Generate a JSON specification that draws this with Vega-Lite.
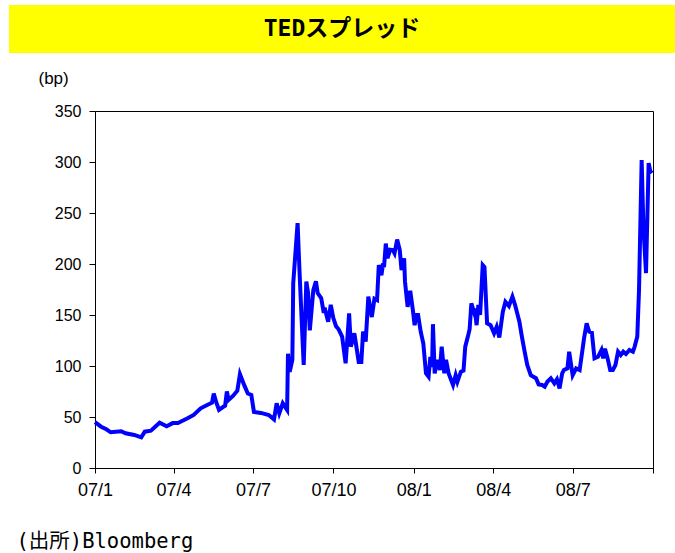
{
  "$schema": "https://vega.github.io/schema/vega-lite/v6.json",
  "background": "white",
  "padding": {"left": 9, "top": 5, "right": 0, "bottom": 0},
  "spacing": 15,
  "config": {"view": {"stroke": null}},
  "vconcat": [
    {
      "width": 666,
      "height": 48,
      "view": {"fill": "#FFFF00", "stroke": null},
      "data": {"values": [{"title": "TEDスプレッド"}]},
      "mark": {"type": "text", "font": "DejaVu Sans Mono, Noto Sans CJK JP", "fontWeight": "bold", "fontSize": 23, "align": "center", "baseline": "middle", "color": "black"},
      "encoding": {"text": {"field": "title", "type": "nominal"}}
    },
    {
      "spacing": 5,
      "hconcat": [
        {
          "width": 1,
          "height": 1,
          "data": {"values": []},
          "mark": {"type": "point", "opacity": 0}
        },
        {
          "width": 558,
          "height": 357,
          "view": {"stroke": "black", "strokeWidth": 1, "fill": "white"},
          "data": {"values": [
            {"date": "2007-01-01", "bp": 45},
            {"date": "2007-01-08", "bp": 40.5},
            {"date": "2007-01-14", "bp": 38},
            {"date": "2007-01-19", "bp": 35},
            {"date": "2007-01-31", "bp": 36},
            {"date": "2007-02-05", "bp": 34},
            {"date": "2007-02-15", "bp": 32.4},
            {"date": "2007-02-23", "bp": 30},
            {"date": "2007-02-27", "bp": 35.6},
            {"date": "2007-03-06", "bp": 36.6},
            {"date": "2007-03-16", "bp": 44.4},
            {"date": "2007-03-24", "bp": 41},
            {"date": "2007-03-31", "bp": 44},
            {"date": "2007-04-06", "bp": 44},
            {"date": "2007-04-17", "bp": 48.7},
            {"date": "2007-04-24", "bp": 52},
            {"date": "2007-05-02", "bp": 58.5},
            {"date": "2007-05-10", "bp": 62},
            {"date": "2007-05-15", "bp": 64},
            {"date": "2007-05-17", "bp": 73},
            {"date": "2007-05-20", "bp": 64},
            {"date": "2007-05-23", "bp": 57},
            {"date": "2007-05-28", "bp": 60},
            {"date": "2007-05-30", "bp": 61},
            {"date": "2007-06-01", "bp": 75},
            {"date": "2007-06-03", "bp": 66.7},
            {"date": "2007-06-08", "bp": 70.6},
            {"date": "2007-06-13", "bp": 75.8},
            {"date": "2007-06-16", "bp": 92},
            {"date": "2007-06-21", "bp": 81},
            {"date": "2007-06-25", "bp": 73},
            {"date": "2007-06-29", "bp": 71.6},
            {"date": "2007-07-02", "bp": 55},
            {"date": "2007-07-10", "bp": 54},
            {"date": "2007-07-19", "bp": 52},
            {"date": "2007-07-25", "bp": 47.7},
            {"date": "2007-07-28", "bp": 63.4},
            {"date": "2007-07-31", "bp": 53.6},
            {"date": "2007-08-04", "bp": 63.4},
            {"date": "2007-08-09", "bp": 56.9},
            {"date": "2007-08-10", "bp": 112},
            {"date": "2007-08-12", "bp": 94.4},
            {"date": "2007-08-15", "bp": 106},
            {"date": "2007-08-16", "bp": 181},
            {"date": "2007-08-21", "bp": 240},
            {"date": "2007-08-23", "bp": 197},
            {"date": "2007-08-26", "bp": 138.5},
            {"date": "2007-08-28", "bp": 101},
            {"date": "2007-08-31", "bp": 182.7},
            {"date": "2007-09-02", "bp": 171.5},
            {"date": "2007-09-04", "bp": 135},
            {"date": "2007-09-08", "bp": 174.5},
            {"date": "2007-09-11", "bp": 183},
            {"date": "2007-09-13", "bp": 171.5},
            {"date": "2007-09-17", "bp": 166.7},
            {"date": "2007-09-20", "bp": 152},
            {"date": "2007-09-21", "bp": 157},
            {"date": "2007-09-25", "bp": 143.4},
            {"date": "2007-09-28", "bp": 160},
            {"date": "2007-10-01", "bp": 146.8},
            {"date": "2007-10-04", "bp": 139},
            {"date": "2007-10-07", "bp": 136},
            {"date": "2007-10-11", "bp": 128.8},
            {"date": "2007-10-15", "bp": 102.6},
            {"date": "2007-10-19", "bp": 151.6},
            {"date": "2007-10-21", "bp": 119},
            {"date": "2007-10-25", "bp": 132},
            {"date": "2007-10-30", "bp": 104},
            {"date": "2007-11-02", "bp": 104},
            {"date": "2007-11-04", "bp": 133.7},
            {"date": "2007-11-07", "bp": 124},
            {"date": "2007-11-10", "bp": 168},
            {"date": "2007-11-14", "bp": 148},
            {"date": "2007-11-17", "bp": 166},
            {"date": "2007-11-20", "bp": 164.7},
            {"date": "2007-11-22", "bp": 199},
            {"date": "2007-11-25", "bp": 189},
            {"date": "2007-11-27", "bp": 200.7},
            {"date": "2007-11-28", "bp": 197},
            {"date": "2007-11-30", "bp": 220},
            {"date": "2007-12-02", "bp": 205.6},
            {"date": "2007-12-05", "bp": 214},
            {"date": "2007-12-08", "bp": 213.7},
            {"date": "2007-12-10", "bp": 210.5},
            {"date": "2007-12-13", "bp": 224},
            {"date": "2007-12-16", "bp": 213.7},
            {"date": "2007-12-18", "bp": 194},
            {"date": "2007-12-21", "bp": 205.6},
            {"date": "2007-12-22", "bp": 182.7},
            {"date": "2007-12-25", "bp": 158},
            {"date": "2007-12-28", "bp": 173.8},
            {"date": "2007-12-31", "bp": 155},
            {"date": "2008-01-02", "bp": 140},
            {"date": "2008-01-04", "bp": 150},
            {"date": "2008-01-06", "bp": 150},
            {"date": "2008-01-09", "bp": 133.6},
            {"date": "2008-01-12", "bp": 122},
            {"date": "2008-01-15", "bp": 92.8},
            {"date": "2008-01-18", "bp": 89.5},
            {"date": "2008-01-20", "bp": 109},
            {"date": "2008-01-22", "bp": 99},
            {"date": "2008-01-23", "bp": 141},
            {"date": "2008-01-25", "bp": 92.8},
            {"date": "2008-01-28", "bp": 106},
            {"date": "2008-01-31", "bp": 96},
            {"date": "2008-02-02", "bp": 119},
            {"date": "2008-02-05", "bp": 92.8},
            {"date": "2008-02-07", "bp": 106},
            {"date": "2008-02-10", "bp": 92.8},
            {"date": "2008-02-15", "bp": 81.4},
            {"date": "2008-02-18", "bp": 91},
            {"date": "2008-02-20", "bp": 84.6},
            {"date": "2008-02-24", "bp": 94.4},
            {"date": "2008-02-27", "bp": 95.4},
            {"date": "2008-02-29", "bp": 119},
            {"date": "2008-03-03", "bp": 128.8},
            {"date": "2008-03-05", "bp": 136},
            {"date": "2008-03-07", "bp": 161.5},
            {"date": "2008-03-10", "bp": 153},
            {"date": "2008-03-11", "bp": 156.5},
            {"date": "2008-03-13", "bp": 140},
            {"date": "2008-03-15", "bp": 160},
            {"date": "2008-03-17", "bp": 150},
            {"date": "2008-03-20", "bp": 199},
            {"date": "2008-03-22", "bp": 197},
            {"date": "2008-03-25", "bp": 141.8},
            {"date": "2008-03-29", "bp": 140},
            {"date": "2008-04-02", "bp": 132},
            {"date": "2008-04-05", "bp": 138.5},
            {"date": "2008-04-08", "bp": 128},
            {"date": "2008-04-12", "bp": 153},
            {"date": "2008-04-15", "bp": 163},
            {"date": "2008-04-19", "bp": 158.8},
            {"date": "2008-04-23", "bp": 168},
            {"date": "2008-04-26", "bp": 160},
            {"date": "2008-05-01", "bp": 143.4},
            {"date": "2008-05-04", "bp": 128},
            {"date": "2008-05-07", "bp": 114},
            {"date": "2008-05-10", "bp": 101},
            {"date": "2008-05-14", "bp": 91},
            {"date": "2008-05-17", "bp": 89.5},
            {"date": "2008-05-20", "bp": 88},
            {"date": "2008-05-23", "bp": 82},
            {"date": "2008-05-27", "bp": 81.4},
            {"date": "2008-05-30", "bp": 79.7},
            {"date": "2008-06-02", "bp": 84.6},
            {"date": "2008-06-06", "bp": 88},
            {"date": "2008-06-10", "bp": 83},
            {"date": "2008-06-13", "bp": 87},
            {"date": "2008-06-16", "bp": 78},
            {"date": "2008-06-19", "bp": 92.8},
            {"date": "2008-06-21", "bp": 96},
            {"date": "2008-06-25", "bp": 97.7},
            {"date": "2008-06-27", "bp": 114},
            {"date": "2008-07-01", "bp": 91},
            {"date": "2008-07-05", "bp": 97.7},
            {"date": "2008-07-09", "bp": 96},
            {"date": "2008-07-13", "bp": 120.6},
            {"date": "2008-07-14", "bp": 127},
            {"date": "2008-07-17", "bp": 141.8},
            {"date": "2008-07-20", "bp": 133.6},
            {"date": "2008-07-23", "bp": 132.7},
            {"date": "2008-07-26", "bp": 107.5},
            {"date": "2008-07-30", "bp": 109},
            {"date": "2008-08-03", "bp": 115.7},
            {"date": "2008-08-05", "bp": 107.5},
            {"date": "2008-08-07", "bp": 117},
            {"date": "2008-08-10", "bp": 107.5},
            {"date": "2008-08-13", "bp": 96},
            {"date": "2008-08-16", "bp": 96},
            {"date": "2008-08-19", "bp": 101},
            {"date": "2008-08-22", "bp": 114},
            {"date": "2008-08-25", "bp": 110.8},
            {"date": "2008-08-28", "bp": 114},
            {"date": "2008-08-31", "bp": 111.8},
            {"date": "2008-09-04", "bp": 115.7},
            {"date": "2008-09-08", "bp": 114},
            {"date": "2008-09-10", "bp": 119},
            {"date": "2008-09-13", "bp": 128.8},
            {"date": "2008-09-15", "bp": 174.5},
            {"date": "2008-09-18", "bp": 302},
            {"date": "2008-09-20", "bp": 236.6},
            {"date": "2008-09-23", "bp": 191},
            {"date": "2008-09-26", "bp": 299},
            {"date": "2008-09-28", "bp": 290.5},
            {"date": "2008-09-30", "bp": 292}
          ]},
          "mark": {"type": "line", "color": "#0000FF", "strokeWidth": 4, "clip": false},
          "encoding": {
            "x": {
              "field": "date",
              "type": "temporal",
              "scale": {"type": "utc", "domain": [{"year": 2007, "month": 1, "date": 1, "utc": true}, {"year": 2008, "month": 10, "date": 1, "utc": true}]},
              "axis": {
                "values": [
                  {"year": 2007, "month": 1, "date": 1, "utc": true},
                  {"year": 2007, "month": 4, "date": 1, "utc": true},
                  {"year": 2007, "month": 7, "date": 1, "utc": true},
                  {"year": 2007, "month": 10, "date": 1, "utc": true},
                  {"year": 2008, "month": 1, "date": 1, "utc": true},
                  {"year": 2008, "month": 4, "date": 1, "utc": true},
                  {"year": 2008, "month": 7, "date": 1, "utc": true},
                  {"year": 2008, "month": 10, "date": 1, "utc": true}
                ],
                "labelExpr": "utcyear(datum.value) == 2008 && utcmonth(datum.value) == 9 ? '' : utcFormat(datum.value, '%y/%-m')",
                "grid": false,
                "domainColor": "black",
                "tickColor": "black",
                "tickSize": 5,
                "labelPadding": 8,
                "labelFont": "Liberation Sans",
                "labelFontSize": 18,
                "labelColor": "black",
                "labelFlush": false,
                "labelOverlap": false,
                "title": "(出所)Bloomberg",
                "titleFont": "DejaVu Sans Mono, Noto Sans CJK JP",
                "titleFontSize": 20.5,
                "titleFontWeight": "normal",
                "titleColor": "black",
                "titleAlign": "left",
                "titleAnchor": "start",
                "titleBaseline": "middle",
                "titleX": -79,
                "titleY": 73
              }
            },
            "y": {
              "field": "bp",
              "type": "quantitative",
              "scale": {"domain": [0, 350], "nice": false},
              "axis": {
                "values": [0, 50, 100, 150, 200, 250, 300, 350],
                "grid": false,
                "domainColor": "black",
                "tickColor": "black",
                "tickSize": 6,
                "labelPadding": 8,
                "labelFont": "Liberation Sans",
                "labelFontSize": 16,
                "labelColor": "black",
                "labelFlush": false,
                "title": "(bp)",
                "titleFont": "Liberation Sans",
                "titleFontSize": 17,
                "titleFontWeight": "normal",
                "titleColor": "black",
                "titleAngle": 0,
                "titleAlign": "left",
                "titleAnchor": "start",
                "titleBaseline": "middle",
                "titleX": -57,
                "titleY": -33
              }
            }
          }
        }
      ]
    }
  ]
}
